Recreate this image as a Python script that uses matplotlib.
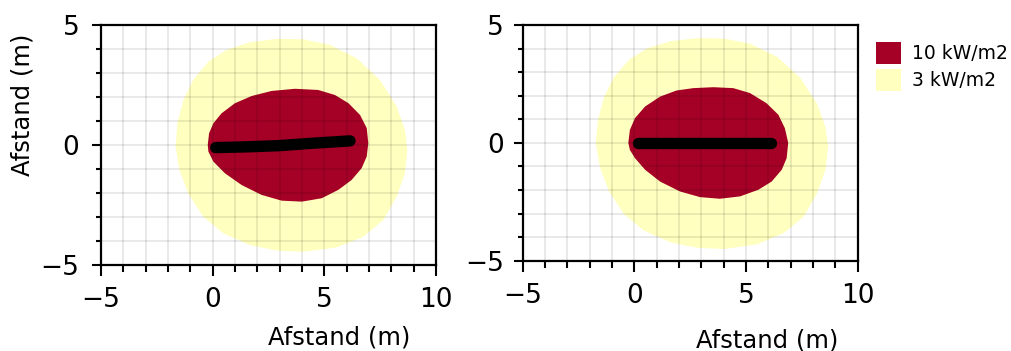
import matplotlib

matplotlib.use("Agg")
import matplotlib.pyplot as plt
from matplotlib.patches import Patch, Polygon
from matplotlib.ticker import MultipleLocator


# Contours of heat radiation (x, y in m) around the flame.
# Left panel: slightly bent jet, right panel: straight jet.
LEFT_3KW_X = [-1.66, -1.58, -1.31, -0.87, -0.19, 0.63, 1.67, 2.87, 4.06, 5.25,
              6.45, 7.49, 8.24, 8.61, 8.72, 8.61, 8.24, 7.64, 6.75, 5.55,
              4.06, 2.87, 1.67, 0.48, -0.42, -1.09, -1.49]
LEFT_3KW_Y = [-0.07, 0.90, 1.87, 2.71, 3.47, 3.96, 4.28, 4.42, 4.40, 4.17,
              3.61, 2.71, 1.60, 0.62, -0.21, -1.18, -2.15, -3.13, -3.82, -4.27,
              -4.45, -4.40, -4.17, -3.68, -2.99, -2.02, -1.04]

LEFT_10KW_X = [-0.22, -0.16, 0.03, 0.40, 1.00, 1.75, 2.64, 3.69, 4.73, 5.48,
               6.08, 6.60, 6.90, 6.97, 6.90, 6.67, 6.22, 5.63, 4.88, 3.99,
               3.09, 2.19, 1.30, 0.55, 0.03, -0.19]
LEFT_10KW_Y = [0.00, 0.49, 0.90, 1.32, 1.74, 2.04, 2.25, 2.34, 2.29, 2.08,
               1.74, 1.25, 0.70, 0.07, -0.48, -0.97, -1.46, -1.87, -2.22, -2.36,
               -2.32, -2.08, -1.67, -1.18, -0.69, -0.28]

LEFT_JET_X = [0.14, 1.45, 2.94, 4.43, 5.48, 6.15]
LEFT_JET_Y = [-0.11, -0.08, -0.03, 0.07, 0.13, 0.17]

RIGHT_3KW_X = [-1.73, -1.63, -1.36, -0.92, -0.24, 0.58, 1.62, 2.82, 4.01, 5.20,
               6.40, 7.44, 8.19, 8.56, 8.68, 8.56, 8.19, 7.59, 6.70, 5.50,
               4.01, 2.82, 1.62, 0.43, -0.47, -1.14, -1.54]
RIGHT_3KW_Y = [0.00, 0.97, 1.94, 2.78, 3.52, 4.01, 4.31, 4.44, 4.42, 4.20,
               3.64, 2.75, 1.64, 0.66, -0.16, -1.14, -2.12, -3.12, -3.82, -4.30,
               -4.50, -4.45, -4.22, -3.72, -3.02, -2.04, -1.04]

RIGHT_10KW_X = [-0.27, -0.20, 0.03, 0.48, 1.15, 1.89, 2.64, 3.54, 4.43, 5.18,
                5.92, 6.45, 6.74, 6.89, 6.82, 6.60, 6.15, 5.55, 4.73, 3.83,
                2.94, 2.04, 1.15, 0.48, 0.03, -0.20]
RIGHT_10KW_Y = [0.00, 0.55, 1.05, 1.54, 1.96, 2.22, 2.32, 2.36, 2.32, 2.11,
                1.68, 1.19, 0.62, 0.00, -0.65, -1.14, -1.64, -1.99, -2.27, -2.37,
                -2.30, -2.06, -1.64, -1.14, -0.65, -0.30]

RIGHT_JET_X = [0.18, 6.12]
RIGHT_JET_Y = [0.00, 0.00]

LEVELS = ["10 kW/m2", "3 kW/m2"]
COLORS = {"10 kW/m2": "#a50026", "3 kW/m2": "#ffffbf"}

XTICKS = [-5, 0, 5, 10]
YTICKS = [-5, 0, 5]

# translucent grid, drawn over the filled contours
plt.rcParams["grid.color"] = "black"
plt.rcParams["grid.alpha"] = 0.09
plt.rcParams["grid.linewidth"] = 1.4


def draw_panel(ax, x3, y3, x10, y10, jet_x, jet_y, ypad):
    ax.add_patch(Polygon(list(zip(x3, y3)), closed=True,
                         facecolor=COLORS["3 kW/m2"], edgecolor="none", zorder=0.3))
    ax.add_patch(Polygon(list(zip(x10, y10)), closed=True,
                         facecolor=COLORS["10 kW/m2"], edgecolor="none", zorder=0.4))
    ax.plot(jet_x, jet_y, color="black", lw=8.2, solid_capstyle="round", zorder=3)

    ax.set_xlim(-5, 10)
    ax.set_ylim(-5, 5)
    ax.set_xticks(XTICKS)
    ax.set_yticks(YTICKS)
    ax.xaxis.set_minor_locator(MultipleLocator(1))
    ax.yaxis.set_minor_locator(MultipleLocator(1))
    ax.set_axisbelow(False)
    ax.grid(which="both")

    ax.tick_params(which="both", width=1.5, labelsize=19)
    ax.tick_params(axis="x", which="major", length=8, pad=8)
    ax.tick_params(axis="x", which="minor", length=5)
    ax.tick_params(axis="y", which="major", length=6.5, pad=ypad)
    ax.tick_params(axis="y", which="minor", length=3.6)
    for sp in ax.spines.values():
        sp.set_linewidth(1.6)
        sp.set_zorder(4)


fig = plt.figure(figsize=(10.12, 3.51), dpi=100)
ax1 = fig.add_axes([0.0998, 0.245, 0.331, 0.684])
ax2 = fig.add_axes([0.5165, 0.257, 0.331, 0.672])

draw_panel(ax1, LEFT_3KW_X, LEFT_3KW_Y, LEFT_10KW_X, LEFT_10KW_Y,
           LEFT_JET_X, LEFT_JET_Y, ypad=9)
draw_panel(ax2, RIGHT_3KW_X, RIGHT_3KW_Y, RIGHT_10KW_X, RIGHT_10KW_Y,
           RIGHT_JET_X, RIGHT_JET_Y, ypad=7)

ax1.set_xlabel("Afstand (m)", fontsize=17.5)
ax1.xaxis.set_label_coords(0.71, -0.25)
ax1.set_ylabel("Afstand (m)", fontsize=17.5)
ax1.yaxis.set_label_coords(-0.20, 0.667)

ax2.set_xlabel("Afstand (m)", fontsize=17.5)
ax2.xaxis.set_label_coords(0.73, -0.285)

handles = [Patch(facecolor=COLORS[lv], edgecolor="none") for lv in LEVELS]
fig.legend(handles, LEVELS, loc="upper left", bbox_to_anchor=(0.866, 0.88),
           frameon=False, fontsize=13.5, handlelength=1.3, handleheight=1.4,
           labelspacing=0.3, handletextpad=0.6, borderpad=0, borderaxespad=0)

fig.savefig("out.png", dpi=100)
